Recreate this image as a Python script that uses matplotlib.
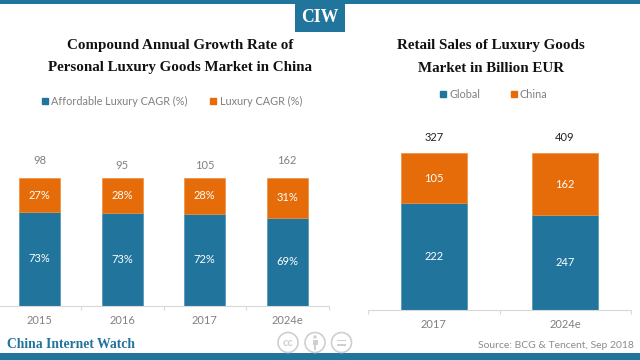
import matplotlib

matplotlib.use("Agg")

import matplotlib.pyplot as plt
import numpy as np
from matplotlib.lines import Line2D
from matplotlib.patches import Circle, Rectangle

TEAL = "#21749c"
ORANGE = "#e66c0a"
GRAY = "#808080"
RULE = "#d9d9d9"
W, H = 640, 360

cagr_years = ["2015", "2016", "2017", "2024e"]
affordable_pct = np.array([73, 73, 72, 69])
luxury_pct = np.array([27, 28, 28, 31])
cagr_totals = ["98", "95", "105", "162"]

sales_years = ["2017", "2024e"]
global_sales = np.array([222, 247])
china_sales = np.array([105, 162])
sales_totals = ["327", "409"]

plt.rcParams["font.family"] = ["Lato", "DejaVu Sans"]
TITLE_FONT = "Liberation Serif"


def axes_px(fig, left, right, top, bottom):
    return fig.add_axes([left / W, 1 - bottom / H, (right - left) / W, (bottom - top) / H])


def stacked_panel(ax, labels, lower, upper, lower_text, upper_text, width):
    """Draw a 100% stacked bar panel, tallest bar filling the axes."""
    x = np.arange(len(labels))
    total = lower + upper
    lower_share = lower / total * 100
    upper_share = upper / total * 100
    ax.bar(x, lower_share, width, color=TEAL, edgecolor="#4b93b5", linewidth=0.5)
    ax.bar(x, upper_share, width, bottom=lower_share, color=ORANGE, edgecolor="#ee8f3f", linewidth=0.5)
    for i in x:
        ax.text(i, lower_share[i] / 2, lower_text[i], ha="center", va="center", color="white", fontsize=8)
        ax.text(i, lower_share[i] + upper_share[i] / 2, upper_text[i], ha="center", va="center",
                color="white", fontsize=8)

    ax.set_xlim(-0.5, len(labels) - 0.5)
    ax.set_ylim(0, 100)
    ax.patch.set_alpha(0)
    ax.set_yticks([])
    ax.set_xticks(x)
    ax.set_xticklabels(labels, color=GRAY, fontsize=8)
    ax.set_xticks(np.arange(len(labels) + 1) - 0.5, minor=True)
    ax.tick_params(axis="x", which="major", length=0, pad=6.5)
    ax.tick_params(axis="x", which="minor", length=3, color=RULE, width=0.8)
    for side in ("top", "left", "right"):
        ax.spines[side].set_visible(False)
    ax.spines["bottom"].set_color(RULE)
    ax.spines["bottom"].set_linewidth(0.8)


def square_legend(fig, names, center_px, y_px, spacing):
    handles = [
        Line2D([], [], linestyle="none", marker="s", markersize=4.4, color=c)
        for c in (TEAL, ORANGE)
    ]
    fig.legend(
        handles, names, loc="center", bbox_to_anchor=(center_px / W, 1 - y_px / H), ncol=2,
        frameon=False, fontsize=7.8, labelcolor=GRAY, handlelength=0.55, handletextpad=0.3,
        columnspacing=spacing, borderpad=0, borderaxespad=0,
    )


fig = plt.figure(figsize=(W / 100, H / 100), dpi=100, facecolor="white")

# page furniture drawn in pixel coordinates
page = fig.add_axes([0, 0, 1, 1])
page.set_xlim(0, W)
page.set_ylim(H, 0)
page.axis("off")
page.add_patch(Rectangle((0, 0), W, 4, facecolor=TEAL, linewidth=0))
page.add_patch(Rectangle((0, 353), W, 7, facecolor=TEAL, linewidth=0))
page.add_patch(Rectangle((295, 0), 50, 32, facecolor=TEAL, linewidth=0))
page.text(320, 18, "CIW", ha="center", va="center", color="white", fontsize=12.7,
          fontweight="bold", family=TITLE_FONT)

for cx, y, line in [
    (180, 46, "Compound Annual Growth Rate of"),
    (180, 68, "Personal Luxury Goods Market in China"),
    (491, 45.5, "Retail Sales of Luxury Goods"),
    (491, 68, "Market in Billion EUR"),
]:
    page.text(cx, y, line, ha="center", va="center", color="#111111", fontsize=10.8,
              fontweight="bold", family=TITLE_FONT)

page.text(7, 345, "China Internet Watch", ha="left", va="center", color=TEAL, fontsize=9.8,
          fontweight="bold", family=TITLE_FONT)
page.text(634, 345, "Source: BCG & Tencent, Sep 2018", ha="right", va="center", color="#8c8c8c",
          fontsize=7.5)

# licence badges
ICON = "#cfcfcf"
for cx in (288, 315, 341.5):
    page.add_patch(Circle((cx, 342.5), 10, facecolor="white", edgecolor=ICON, linewidth=1.2))
page.text(288, 342.5, "cc", ha="center", va="center", color=ICON, fontsize=8, fontweight="bold")
page.add_patch(Circle((315, 337), 1.7, facecolor=ICON, linewidth=0))
page.add_patch(Rectangle((312.5, 339.5), 5, 5.5, facecolor=ICON, linewidth=0))
page.add_patch(Rectangle((313.7, 345), 2.6, 4.5, facecolor=ICON, linewidth=0))
page.add_patch(Rectangle((337, 340.2), 9, 1.2, facecolor=ICON, linewidth=0))
page.add_patch(Rectangle((337, 344.4), 9, 1.2, facecolor=ICON, linewidth=0))

# left panel
ax_left = axes_px(fig, -1.5, 328.5, 178, 305.5)
stacked_panel(ax_left, cagr_years, affordable_pct, luxury_pct,
              [f"{v}%" for v in affordable_pct], [f"{v}%" for v in luxury_pct], 0.5)
for i, (label, offset) in enumerate(zip(cagr_totals, [17, 12, 12, 17])):
    ax_left.annotate(label, (i, 100), xytext=(0, offset * 0.72), textcoords="offset points",
                     ha="center", va="center", color=GRAY, fontsize=8, annotation_clip=False)

# right panel
ax_right = axes_px(fig, 368.3, 630.7, 153, 310)
stacked_panel(ax_right, sales_years, global_sales, china_sales,
              [str(v) for v in global_sales], [str(v) for v in china_sales], 0.5)
for i, label in enumerate(sales_totals):
    ax_right.annotate(label, (i, 100), xytext=(0, 11.5), textcoords="offset points",
                      ha="center", va="center", color="#222222", fontsize=8, annotation_clip=False)

square_legend(fig, ["Affordable Luxury CAGR (%)", "Luxury CAGR (%)"], 172, 101, 2.1)
square_legend(fig, ["Global", "China"], 494, 94, 2.8)

fig.savefig("out.png", dpi=100)
plt.close(fig)
